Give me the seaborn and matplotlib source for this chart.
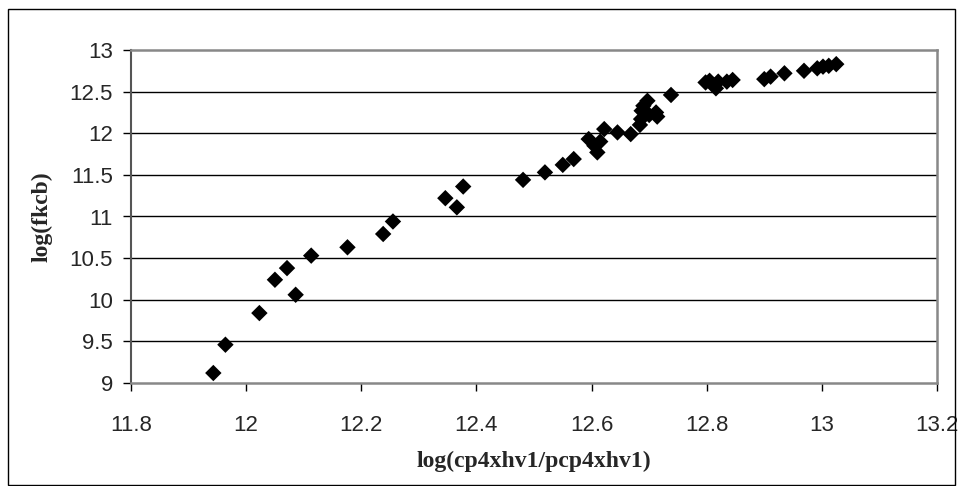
import numpy as np
import pandas as pd
import matplotlib
matplotlib.use('Agg')
import matplotlib.pyplot as plt
import seaborn as sns
from matplotlib.patches import Rectangle

# Values
x_vals = [11.943, 11.964, 12.023, 12.050, 12.071, 12.086, 12.113, 12.176,
          12.238, 12.255, 12.346, 12.366, 12.377, 12.481, 12.519, 12.550,
          12.569, 12.595, 12.605, 12.610, 12.615, 12.622, 12.645, 12.668,
          12.684, 12.686, 12.687, 12.690, 12.697, 12.700, 12.712, 12.714,
          12.738, 12.798, 12.805, 12.812, 12.816, 12.820, 12.835, 12.845,
          12.900, 12.911, 12.935, 12.969, 12.992, 13.002, 13.012, 13.025]
y_vals = [9.12, 9.46, 9.84, 10.24, 10.38, 10.06, 10.53, 10.63,
          10.79, 10.94, 11.22, 11.11, 11.36, 11.44, 11.53, 11.62,
          11.69, 11.93, 11.85, 11.77, 11.90, 12.05, 12.01, 11.99,
          12.10, 12.17, 12.27, 12.33, 12.39, 12.22, 12.25, 12.20,
          12.46, 12.61, 12.63, 12.58, 12.54, 12.62, 12.62, 12.64,
          12.65, 12.68, 12.72, 12.75, 12.78, 12.80, 12.81, 12.83]
x_ticks = [11.8, 12, 12.2, 12.4, 12.6, 12.8, 13, 13.2]
x_tick_labels = ['11.8', '12', '12.2', '12.4', '12.6', '12.8', '13', '13.2']
y_ticks = [9, 9.5, 10, 10.5, 11, 11.5, 12, 12.5, 13]
y_tick_labels = ['9', '9.5', '10', '10.5', '11', '11.5', '12', '12.5', '13']

df = pd.DataFrame({'x': x_vals, 'y': y_vals})

sns.set_style('white')
plt.rcParams['font.family'] = ['Liberation Sans', 'DejaVu Sans']

fig = plt.figure(figsize=(9.66, 4.86), dpi=100)
ax = fig.add_axes([131 / 966, 1 - 383 / 486, (937 - 131) / 966, (383 - 50) / 486])

# gridlines behind the points
for yv in y_ticks[1:-1]:
    ax.axhline(yv, color='black', lw=1, zorder=0)

sns.scatterplot(data=df, x='x', y='y', marker='D', color='black', s=70,
                edgecolor='none', ax=ax, zorder=3)

ax.set_xlim(11.8, 13.2)
ax.set_ylim(9, 13)
ax.set_xticks(x_ticks)
ax.set_xticklabels(x_tick_labels)
ax.set_yticks(y_ticks)
ax.set_yticklabels(y_tick_labels)
ax.tick_params(axis='both', direction='out', length=6, width=1, color='black',
               labelsize=16, left=True, bottom=True)
ax.tick_params(axis='x', pad=17)
ax.tick_params(axis='y', pad=7)

for side in ['top', 'right', 'bottom']:
    ax.spines[side].set_color('#888888')
    ax.spines[side].set_linewidth(1.8)
ax.spines['left'].set_color('#555555')
ax.spines['left'].set_linewidth(1.5)

ax.set_xlabel('log(cp4xhv1/pcp4xhv1)', fontfamily='Liberation Serif',
              fontweight='bold', fontsize=17, labelpad=11)
ax.set_ylabel('log(fkcb)', fontfamily='Liberation Serif',
              fontweight='bold', fontsize=17, labelpad=12)

# outer chart border
fig.patches.append(Rectangle((8 / 966, 0.002), (955 - 8) / 966, 1 - 9 / 486 - 0.002,
                             transform=fig.transFigure, fill=False,
                             edgecolor='black', lw=1))

fig.savefig('out.png', dpi=100)
